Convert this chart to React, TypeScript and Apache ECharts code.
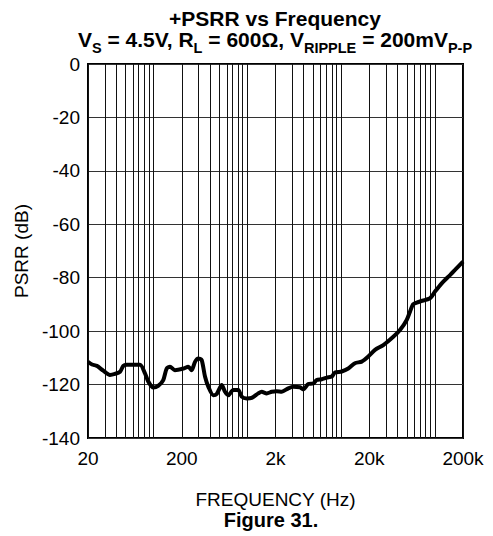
import React, { useEffect, useRef } from "react";
import * as echarts from "echarts";

// Frequency (Hz) and +PSRR (dB)
const FREQ = [
  20, 22.1, 24.8, 29.1, 34.3, 38.8, 43.9, 47.6, 51.7,
  71.7, 81.1, 88, 99.5, 112, 127, 138, 150, 169,
  208, 235, 255, 277, 300, 326, 354, 384, 434, 472,
  534, 579, 627, 709, 802, 872, 986, 1115, 1311, 1425,
  1611, 1822, 2060, 2330, 2738, 3098, 3650, 3960, 4476, 5062,
  5502, 6222, 7034, 7954, 8626, 10170, 11950, 14090, 16620, 19540,
  23040, 28240, 36100, 42560, 50180, 54420, 59020, 69560, 88920, 100500,
  118600, 145300, 164300, 200000,
];
const PSRR = [
  -111.5, -112.5, -113, -114.8, -116.4, -116, -115.2, -113, -112.6,
  -112.6, -115.8, -118.9, -121.1, -120.5, -118.3, -114, -113.3, -114.6,
  -114, -113.3, -114.6, -111.5, -110.2, -110.8, -117, -120.8, -124, -123.5,
  -120.2, -122.7, -124, -122, -122, -124.5, -125.2, -125, -123.3, -122.7,
  -123.3, -122.7, -122.5, -122.7, -121.4, -120.8, -121, -121.8, -119.8, -119.6,
  -118.3, -118, -117.4, -117, -115.5, -115.1, -114, -112, -111.4, -109.5,
  -107, -105.2, -102.1, -99.6, -95.8, -92.7, -89.9, -88.9, -87.7, -85.2,
  -82.1, -79, -77.1, -74,
];

const X_TICK_LABELS = ["20", "200", "2k", "20k", "200k"];
const F_START = 20;
const MINOR_MULTS = [3, 4, 5, 6, 7, 8, 9, 10];
const DECADES = [10, 100, 1000, 10000];
const Y_MIN = -140;
const Y_MAX = 0;
const Y_STEP = 20;

const FONT = "Liberation Sans, Arial, sans-serif";

export default function App() {
  const ref = useRef<HTMLDivElement>(null);

  useEffect(() => {
    if (!ref.current) return;
    document.body.style.margin = "0";
    const chart = echarts.init(ref.current, null, { renderer: "svg" });

    const toX = (f: number) => Math.log10(f / F_START);
    const data = FREQ.map((f, i) => [toX(f), PSRR[i]]);
    const minor: number[] = [];
    DECADES.forEach((d) =>
      MINOR_MULTS.forEach((m) => {
        const v = toX(m * d);
        if (Math.abs(v - Math.round(v)) > 1e-6) minor.push(v);
      })
    );

    chart.setOption({
      animation: false,
      backgroundColor: "#fff",
      title: {
        left: 275,
        textAlign: "center",
        top: 8,
        padding: 0,
        text:
          "{b|+PSRR vs Frequency}\n{b|V}{s|S}{b| = 4.5V, R}{s|L}{b| = 600Ω, V}{s|RIPPLE}{b| = 200mV}{s|P-P}",
        textStyle: {
          rich: {
            b: {
              fontFamily: FONT,
              fontWeight: "bold",
              fontSize: 21,
              color: "#000",
              lineHeight: 21,
              verticalAlign: "top",
            },
            s: {
              fontFamily: FONT,
              fontWeight: "bold",
              fontSize: 14.5,
              color: "#000",
              lineHeight: 14,
              padding: [11, 0, 0, 0],
              verticalAlign: "top",
            },
          },
        },
      },
      grid: {
        left: 88,
        right: 30,
        top: 64,
        bottom: 98,
        show: true,
        borderColor: "#000",
        borderWidth: 2,
        backgroundColor: "transparent",
      },
      xAxis: {
        type: "value",
        min: 0,
        max: 4,
        interval: 1,
        name: "FREQUENCY (Hz)",
        nameLocation: "middle",
        nameGap: 52,
        nameTextStyle: { fontFamily: FONT, fontSize: 19, color: "#000" },
        axisLine: { show: false },
        axisTick: { show: false },
        axisLabel: {
          fontFamily: FONT,
          fontSize: 19,
          color: "#000",
          margin: 11,
          formatter: (v: number) => X_TICK_LABELS[Math.round(v)] ?? "",
        },
        splitLine: { show: true, lineStyle: { color: "#111", width: 1 } },
      },
      yAxis: {
        type: "value",
        min: Y_MIN,
        max: Y_MAX,
        interval: Y_STEP,
        name: "PSRR (dB)",
        nameLocation: "middle",
        nameGap: 57,
        nameTextStyle: { fontFamily: FONT, fontSize: 19, color: "#000" },
        axisLine: { show: false },
        axisTick: { show: false },
        axisLabel: { fontFamily: FONT, fontSize: 19, color: "#000", margin: 8 },
        splitLine: { show: true, lineStyle: { color: "#333", width: 1 } },
      },
      graphic: [
        {
          type: "text",
          x: 271,
          y: 520,
          style: {
            text: "Figure 31.",
            fontFamily: FONT,
            fontWeight: "bold",
            fontSize: 20,
            fill: "#000",
            align: "center",
            verticalAlign: "middle",
          },
        },
      ],
      series: [
        {
          type: "line",
          data,
          showSymbol: false,
          silent: true,
          z: 1,
          lineStyle: { opacity: 0 },
          markLine: {
            silent: true,
            symbol: ["none", "none"],
            label: { show: false },
            lineStyle: { color: "#111", width: 1, type: "solid" },
            data: minor.map((v) => ({ xAxis: v })),
          },
        },
        {
          type: "line",
          data,
          showSymbol: false,
          smooth: 0.25,
          z: 5,
          lineStyle: { color: "#000", width: 4 },
        },
      ],
    });

    return () => chart.dispose();
  }, []);

  return <div ref={ref} style={{ width: 493, height: 536 }} />;
}
